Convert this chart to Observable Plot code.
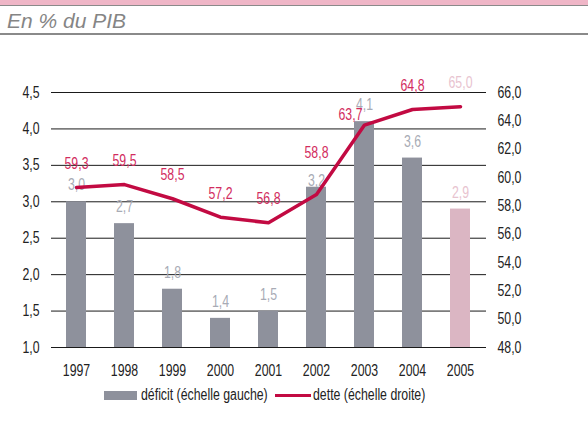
<!DOCTYPE html>
<html><head><meta charset="utf-8">
<script src="https://cdn.jsdelivr.net/npm/d3@7"></script>
<script src="https://cdn.jsdelivr.net/npm/@observablehq/plot@0.6"></script>
<style>
body{margin:0;background:#fff;width:588px;height:435px;overflow:hidden;font-family:"Liberation Sans",Arial,sans-serif;}
#band{height:5px;background:#efb6c7;border-bottom:1px solid #8a8a8a;}
#title{box-sizing:border-box;height:29px;padding-top:3px;padding-left:7px;line-height:23px;border-bottom:2px solid #8a8a8a;font-family:"Liberation Sans",Arial,sans-serif;font-style:italic;font-size:21px;color:#858585;}
#chart svg{display:block;}
#legend{position:relative;height:22px;font-size:16px;color:#222;}
#legend span{position:absolute;}
#legend span.t{transform:scaleX(0.77);transform-origin:0 50%;white-space:nowrap;line-height:20px;top:0;}
</style></head>
<body>
<div id="band"></div>
<div id="title">En % du PIB</div>
<div id="chart"></div>
<div id="legend">
  <span style="left:104px;top:6px;width:33px;height:9px;background:#8e919c"></span>
  <span class="t" style="left:141px">déficit (échelle gauche)</span>
  <span style="left:275px;top:9px;width:36px;height:3px;background:#c20a42"></span>
  <span class="t" style="left:313px">dette (échelle droite)</span>
</div>
<script>
const years = ["1997","1998","1999","2000","2001","2002","2003","2004","2005"];
const deficit = [3.0, 2.7, 1.8, 1.4, 1.5, 3.2, 4.1, 3.6, 2.9];
const debt = [59.3, 59.5, 58.5, 57.2, 56.8, 58.8, 63.7, 64.8, 65.0];
const leftTicks = [1, 1.5, 2, 2.5, 3, 3.5, 4, 4.5];
const rightTicks = [48, 50, 52, 54, 56, 58, 60, 62, 64, 66];
const forecastYear = "2005";

const fmt = v => v.toFixed(1).replace(".", ",");
const L0 = 1, L1 = 4.5, R0 = 48, R1 = 66;
const toLeft = d => L0 + (d - R0) * (L1 - L0) / (R1 - R0);
const toRight = v => R0 + (v - L0) * (R1 - R0) / (L1 - L0);

const data = years.map((y, i) => ({year: y, def: deficit[i], debt: debt[i]}));

const GREY = "#8e919c", PINK = "#dbb6c3", RED = "#c20a42";
const DEF_LBL = "#a8abb5", DEBT_LBL = "#d22c5e", FC_LBL = "#e8c3cf";

// label nudges in pixels (layout only)
const debtNudge = {"2002": {dx: 0, dy: -18}, "2003": {dx: -14, dy: 13}};
const defNudge = {"2002": {dx: 0, dy: 10}};

function labelMarks(getY, getText, getFill, baseDy, nudge) {
  const normal = data.filter(d => !nudge[d.year]);
  const marks = [Plot.text(normal, {x: "year", y: getY, text: getText, fill: getFill, dy: baseDy, lineAnchor: "middle"})];
  for (const d of data.filter(d => nudge[d.year])) {
    marks.push(Plot.text([d], {x: "year", y: getY, text: getText, fill: getFill, dx: nudge[d.year].dx, dy: baseDy + nudge[d.year].dy, lineAnchor: "middle"}));
  }
  return marks;
}

const chart = Plot.plot({
  width: 588, height: 350,
  marginTop: 57, marginBottom: 38, marginLeft: 51, marginRight: 102,
  style: {fontFamily: '"Liberation Sans",Arial,sans-serif', fontSize: "16px", color: "#222", background: "transparent"},
  x: {domain: years, paddingInner: 0.58, paddingOuter: 0.29, label: null},
  y: {domain: [L0, L1], label: null},
  color: {type: "identity"},
  marks: [
    Plot.gridY(leftTicks, {stroke: "#1a1a1a", strokeOpacity: 1}),
    Plot.axisY(leftTicks, {anchor: "left", tickSize: 0, tickPadding: 12, tickFormat: fmt, label: null}),
    Plot.axisY(rightTicks.map(toLeft), {anchor: "right", tickSize: 0, tickPadding: 11, tickFormat: v => fmt(toRight(v)), label: null}),
    Plot.axisX({tickSize: 0, tickPadding: 17, label: null}),
    ...labelMarks("def", d => fmt(d.def), d => d.year === forecastYear ? FC_LBL : DEF_LBL, -16.5, defNudge),
    Plot.barY(data, {x: "year", y1: L0, y2: "def", fill: d => d.year === forecastYear ? PINK : GREY}),
    Plot.line(data, {x: "year", y: d => toLeft(d.debt), stroke: RED, strokeWidth: 3.5}),
    ...labelMarks(d => toLeft(d.debt), d => fmt(d.debt), d => d.year === forecastYear ? FC_LBL : DEBT_LBL, -23.5, debtNudge)
  ]
});
// condense chart texts horizontally around their own anchor point
chart.querySelectorAll("text").forEach(t => {
  const x = parseFloat(t.getAttribute("x")) || 0, y = parseFloat(t.getAttribute("y")) || 0;
  const tr = t.getAttribute("transform") || "";
  t.setAttribute("transform", `${tr} translate(${x},${y}) scale(0.77,1) translate(${-x},${-y})`.trim());
});
document.getElementById("chart").appendChild(chart);
</script>
</body></html>
